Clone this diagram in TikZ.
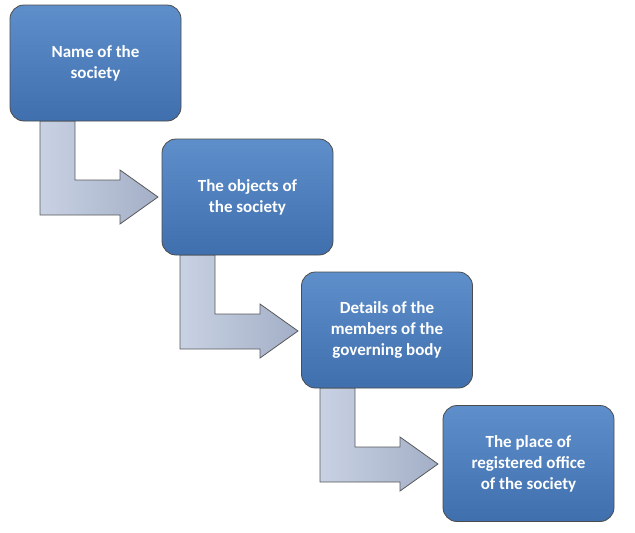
\documentclass[tikz,border=0pt]{standalone}
\usepackage{fontspec}
\setmainfont{Carlito}
\begin{document}
\begin{tikzpicture}[x=1pt,y=-1pt,
 box/.style={draw=black!70,line width=0.8pt,rounded corners=14pt,top color=blue!35!cyan!40!black!0!white!0!boxtop,bottom color=boxbot,
   text=white,font=\fontsize{17}{21}\selectfont\bfseries,align=center,minimum width=171pt,minimum height=116pt,inner sep=4pt},
 barrow/.style={draw=black!65,line width=0.8pt,left color=arrL,right color=arrR}]
\definecolor{boxtop}{HTML}{5E8FCB}
\definecolor{boxbot}{HTML}{3F6FAD}
\definecolor{arrL}{HTML}{C9D2E3}
\definecolor{arrR}{HTML}{A3AFC7}
\useasboundingbox (0,0) rectangle (635,533);
\foreach \x/\y in {40/121,180/255,320/388}{
 \draw[barrow] (\x,\y) -- (\x+35,\y) -- (\x+35,\y+59) -- (\x+80,\y+59) -- (\x+80,\y+49) -- (\x+118,\y+76) -- (\x+80,\y+103) -- (\x+80,\y+94) -- (\x,\y+94) -- cycle;}
\node[box] (a) at (95.5,63) {Name of the\\society};
\node[box] (b) at (247.5,197) {The objects of\\the society};
\node[box] (c) at (387,330) {Details of the\\members of the\\governing body};
\node[box] (d) at (528.5,463.5) {The place of\\registered office\\of the society};
\end{tikzpicture}
\end{document}
